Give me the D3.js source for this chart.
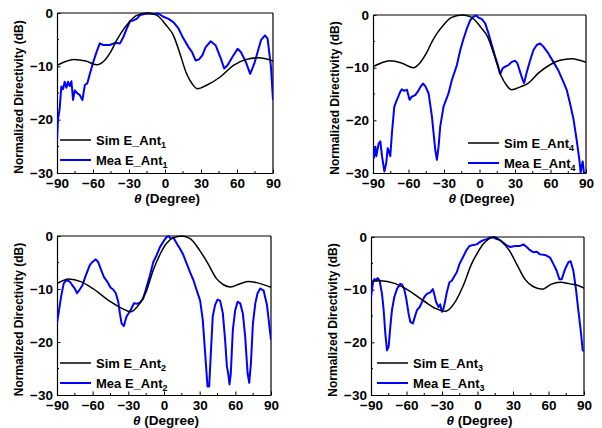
<!DOCTYPE html>
<html>
<head>
<meta charset="utf-8">
<script src="https://cdn.jsdelivr.net/npm/d3@7"></script>
<style>
  body { margin: 0; background: #fff; }
  text { font-family: "Liberation Sans", Arial, sans-serif; font-weight: bold; }
</style>
</head>
<body>
<div id="chart"></div>
<script>
// angle ticks and level ticks
var thetaTicks = [-90, -60, -30, 0, 30, 60, 90];
var levelTicks = [0, -10, -20, -30];

// simulated patterns [theta, dB]
var simAnt1 = [[-90,-9.8],[-83,-9.1],[-76,-8.7],[-66,-9.0],[-57,-9.7],[-50,-8.8],[-45,-7.2],[-40,-5.0],[-35,-3.2],[-30,-1.8],[-24,-0.5],[-15,0],[-7,-0.4],[1,-2.3],[7,-4.2],[12,-7.3],[18,-11.4],[23,-13.4],[27,-14.2],[35,-13.5],[46,-12],[57,-9.8],[68,-8.7],[78,-8.4],[90,-9.0]];
var simAnt4 = [[-90,-9.8],[-83,-9.1],[-76,-8.7],[-66,-9.1],[-56,-10],[-50,-9.0],[-45,-7.3],[-40,-5.0],[-35,-3.2],[-30,-1.8],[-24,-0.5],[-15,0],[-7,-0.4],[1,-2.3],[7,-4.2],[12,-7.3],[18,-11.4],[23,-13.4],[27,-14.2],[35,-13.6],[41,-13],[50,-11],[60,-9.4],[68,-8.6],[78,-8.3],[90,-9.0]];
var simAnt2 = [[-90,-9.0],[-80,-8.1],[-70,-8.6],[-60,-9.9],[-45,-12.4],[-35,-13.7],[-28,-14.3],[-22,-13.2],[-15,-10.5],[-9,-6.4],[-3,-3.3],[2,-1.4],[8,-0.3],[15,0],[22,-0.5],[30,-2.7],[37,-5.2],[44,-8.0],[50,-9.2],[56,-9.6],[64,-9.0],[71,-8.6],[78,-8.8],[90,-9.7]];
var simAnt3 = [[-90,-8.4],[-82,-8.3],[-70,-8.8],[-60,-9.9],[-45,-12.2],[-35,-13.6],[-27,-14.1],[-20,-12.7],[-12,-9.2],[-5,-5.1],[0,-3.0],[5,-1.3],[10,-0.3],[14,0],[20,-0.8],[27,-2.6],[33,-5.1],[40,-8.0],[47,-9.4],[55,-9.9],[62,-9.0],[70,-8.6],[78,-8.9],[85,-9.2],[90,-9.7]];

// measured patterns [theta, dB]
var meaAnt1 = [[-90,-24.1],[-89.2,-20],[-87.8,-18],[-86.4,-13.8],[-85,-14.3],[-83.6,-12.9],[-82.2,-14],[-80.8,-12.9],[-79.4,-13.7],[-78,-12.8],[-76.6,-16.3],[-75.2,-14.5],[-73.3,-15],[-71,-15.4],[-68.8,-16.3],[-66.8,-13.5],[-64.8,-13.2],[-62.6,-11.4],[-59.8,-9.2],[-57,-7.3],[-54.3,-5.7],[-51.5,-6.0],[-45.9,-6.0],[-41.7,-5.6],[-37.5,-5.7],[-34.7,-4.5],[-32,-3.0],[-29.2,-1.5],[-26.4,-1.4],[-23.6,-1.1],[-20.8,-0.4],[-15.3,-0.1],[-9.7,-0.2],[-5.5,-0.1],[-1.3,-0.7],[2.9,-1.1],[7,-1.7],[11.2,-2.9],[15.4,-4.8],[19.6,-6.4],[22.4,-7.3],[25.6,-8.9],[28.4,-8.7],[31.2,-7.9],[33.9,-6.4],[38.1,-5.3],[42.3,-6.1],[46.5,-8.5],[49.3,-10.4],[52.1,-9.8],[56.3,-8.2],[60.5,-6.7],[63.2,-7.3],[67.4,-9.2],[71,-11.4],[74.4,-9.5],[77.2,-7.3],[80,-5.1],[83.3,-4.2],[85.5,-4.8],[88.3,-10.1],[90,-16.3]];
var meaAnt4 = [[-90,-25.6],[-89.4,-27.2],[-88,-25],[-87.2,-26.8],[-85.2,-24.4],[-83.8,-24],[-82.4,-26.8],[-80.4,-29.7],[-78.8,-28.1],[-77.6,-25.3],[-76.5,-25.9],[-75.4,-26.8],[-74,-22.4],[-72,-17.4],[-69.8,-16.1],[-67,-14.6],[-65.6,-14.1],[-63.6,-14.4],[-61.3,-14.2],[-59.1,-16.1],[-57.1,-15.5],[-54.3,-15.2],[-52.3,-14.6],[-50,-13.7],[-47.8,-13],[-45.8,-13.5],[-43,-14.9],[-40.2,-19.3],[-37.4,-25.6],[-36,-27.5],[-34.6,-25],[-33.2,-21.2],[-30.4,-17.4],[-26.2,-14.9],[-23.4,-12.4],[-19.1,-9.5],[-16.3,-6.7],[-13.5,-4.5],[-10.7,-2.6],[-7.9,-1.0],[-5.1,-0.3],[-2.8,-0.1],[-0.8,-0.5],[2,-0.8],[4.8,-1.6],[7.6,-3.5],[10.4,-5.7],[13.2,-7.9],[15.5,-9.5],[17.4,-11.2],[19.7,-10.1],[21.7,-9.8],[24.5,-9.5],[27.3,-8.9],[30.1,-8.7],[32.1,-9.2],[34.3,-10.8],[36.6,-12.4],[37.7,-12.9],[40,-10.8],[42.7,-8.7],[45.5,-6.7],[48.4,-5.7],[51.2,-5.4],[54,-6.0],[58.2,-7.3],[62.4,-8.9],[66.6,-10.5],[70.9,-12.7],[73.7,-14.2],[76.5,-16.8],[79.3,-19.6],[82.1,-23.7],[84.4,-27.5],[85.5,-30],[86.3,-28.7],[87.2,-27.8],[88.3,-30],[90,-30]];
var meaAnt2 = [[-90,-16.5],[-88.3,-14],[-86.3,-11.1],[-84.4,-9.0],[-82.1,-8.3],[-79.3,-8.6],[-77.1,-9.3],[-75.1,-9.9],[-73.1,-10.8],[-70.9,-10.1],[-68.6,-9.3],[-66.7,-8.0],[-64.7,-6.8],[-62.4,-5.5],[-60.2,-4.9],[-57.4,-4.4],[-55.4,-4.9],[-53.4,-6.1],[-50.6,-7.7],[-47.8,-8.6],[-45,-9.7],[-42.8,-10.1],[-40.5,-10.8],[-38.5,-12.4],[-37.1,-14.6],[-35.7,-16.5],[-33.8,-17],[-31.5,-15.2],[-28.1,-14],[-25.3,-12.7],[-23.1,-12.8],[-20.3,-12.6],[-17.5,-11.8],[-14.6,-9.6],[-11.8,-7.4],[-9,-4.9],[-6.2,-3.6],[-3.4,-2.1],[-0.6,-1.1],[1.7,-0.3],[3.7,0],[5.6,-0.5],[7.9,-0.3],[10.7,-1.4],[13.5,-2.4],[16.3,-3.6],[19.1,-5.2],[21.9,-6.8],[24.7,-8.3],[27.6,-10.3],[30.4,-12.2],[32.6,-15.8],[34.6,-22.1],[36.6,-28.4],[38,-28.4],[39.4,-22.1],[41,-15.2],[43,-13],[45,-12],[47.2,-12.2],[49.5,-14.6],[51.4,-19.6],[52.9,-24.6],[54,-25.9],[55.1,-28],[56.2,-25.9],[57.9,-17.7],[59.9,-14],[61.9,-12.4],[64.1,-12.7],[66.3,-14.6],[68.3,-19],[70.3,-25.9],[71.7,-27.7],[73.1,-24],[74.8,-16.5],[76.8,-12.7],[78.7,-10.8],[81,-9.9],[83.8,-10.3],[86.6,-13],[90,-19.6]];
var meaAnt3 = [[-90,-11.4],[-88.3,-8.6],[-87.2,-8.0],[-85.5,-8.2],[-84.4,-7.8],[-82.7,-8.3],[-80.7,-10.8],[-79.3,-13.9],[-77.9,-18.3],[-76.5,-21.5],[-75.1,-20.8],[-73.7,-17.1],[-72.3,-13.9],[-70.3,-11.4],[-68.1,-9.9],[-65.3,-8.9],[-63.8,-9.0],[-61.9,-9.9],[-60.2,-11.7],[-58.2,-14.6],[-56.8,-16.1],[-54.6,-16.4],[-52.6,-14.9],[-51.2,-13.9],[-48.9,-13.3],[-47,-12.4],[-45,-11.4],[-42.8,-10.8],[-39.9,-10.5],[-37.7,-9.9],[-36.6,-10.8],[-34.9,-12.4],[-32.9,-13.3],[-31.5,-12.8],[-30.1,-14.2],[-28.7,-13.6],[-27.3,-12.1],[-25.9,-10.5],[-23.7,-8.6],[-21.7,-8.3],[-19.7,-7.5],[-17.5,-6.7],[-15.2,-5.1],[-12.4,-3.9],[-9.6,-2.6],[-6.8,-1.7],[-3.4,-1.5],[-0.6,-1.4],[2.3,-0.9],[5.1,-0.6],[7.9,-0.4],[10.7,-0.1],[13.5,-0.1],[16.3,-0.4],[19.1,-0.6],[21.9,-1.1],[24.7,-1.6],[27.6,-1.9],[31.8,-1.7],[36,-1.7],[38.8,-1.4],[41.6,-1.9],[44.4,-2.5],[47.2,-2.9],[50.1,-2.8],[52.9,-3.3],[57.1,-3.4],[61.3,-3.9],[64.1,-5.1],[66.9,-6.4],[69.2,-8.0],[71.2,-8.0],[74,-6.1],[76.8,-4.8],[78.7,-4.6],[81,-6.4],[83.3,-10.1],[85.2,-13.9],[87.2,-17.7],[88.9,-21.5],[90,-21.6]];

var width = 602, height = 428;

var svg = d3.select("#chart")
    .append("svg")
    .attr("width", width)
    .attr("height", height);

var panels = [
    { x0: 57,  x1: 273, y0: 13,  y1: 173, sim: simAnt1, mea: meaAnt1, sub: "1", lx: 60,  ly: 140 },
    { x0: 373, x1: 586, y0: 15,  y1: 173, sim: simAnt4, mea: meaAnt4, sub: "4", lx: 468, ly: 143 },
    { x0: 57,  x1: 271, y0: 236, y1: 395, sim: simAnt2, mea: meaAnt2, sub: "2", lx: 60,  ly: 363 },
    { x0: 371, x1: 584, y0: 237, y1: 395, sim: simAnt3, mea: meaAnt3, sub: "3", lx: 377, ly: 363 }
];

panels.forEach(function (p) {
    var x = d3.scaleLinear().domain([-90, 90]).range([p.x0, p.x1]),
        y = d3.scaleLinear().domain([-30, 0]).range([p.y1, p.y0]);

    var g = svg.append("g");

    var clipId = "clip" + p.sub;
    g.append("clipPath").attr("id", clipId)
        .append("rect")
        .attr("x", p.x0).attr("y", p.y0 - 2)
        .attr("width", p.x1 - p.x0).attr("height", p.y1 - p.y0 + 2);

    // frame: top and right
    g.append("line")
        .attr("x1", p.x0).attr("x2", p.x1)
        .attr("y1", p.y0).attr("y2", p.y0)
        .attr("stroke", "#555").attr("stroke-width", 1.5);
    g.append("line")
        .attr("x1", p.x1).attr("x2", p.x1)
        .attr("y1", p.y0).attr("y2", p.y1)
        .attr("stroke", "#000").attr("stroke-width", 1.2);

    // minor ticks (inside)
    g.selectAll(".mx").data(d3.range(-75, 90, 30)).enter().append("line")
        .attr("x1", function (d) { return x(d); }).attr("x2", function (d) { return x(d); })
        .attr("y1", p.y1).attr("y2", p.y1 - 2)
        .attr("stroke", "#000");
    g.selectAll(".my").data([-25, -15, -5]).enter().append("line")
        .attr("y1", function (d) { return y(d); }).attr("y2", function (d) { return y(d); })
        .attr("x1", p.x0).attr("x2", p.x0 + 2)
        .attr("stroke", "#000");

    var xAxis = g.append("g")
        .attr("transform", "translate(0," + p.y1 + ")")
        .call(d3.axisBottom(x).tickValues(thetaTicks).tickSizeInner(-3.5).tickSizeOuter(0).tickPadding(5.5));
    var yAxis = g.append("g")
        .attr("transform", "translate(" + p.x0 + ",0)")
        .call(d3.axisLeft(y).tickValues(levelTicks).tickSizeInner(-3.5).tickSizeOuter(0).tickPadding(4));

    [xAxis, yAxis].forEach(function (a) {
        a.select(".domain").attr("stroke", "#000").attr("stroke-width", 1.2);
        a.selectAll("text").attr("font-size", 13.5).attr("fill", "#000")
            .attr("font-family", "'Liberation Sans', Arial, sans-serif").attr("font-weight", "bold");
    });

    // y axis title
    var cy = (p.y0 + p.y1) / 2 + 4;
    g.append("text")
        .attr("transform", "translate(" + (p.x0 - 34) + "," + cy + ") rotate(-90)")
        .attr("text-anchor", "middle")
        .attr("font-size", 12)
        .text("Normalized Directivity (dB)");

    // x axis title
    var xt = g.append("text")
        .attr("x", (p.x0 + p.x1) / 2 + 2)
        .attr("y", p.y1 + 29.5)
        .attr("text-anchor", "middle")
        .attr("font-size", 13.5);
    xt.append("tspan").attr("font-style", "italic").text("θ");
    xt.append("tspan").text(" (Degree)");

    var line = d3.line()
        .x(function (d) { return x(d[0]); })
        .y(function (d) { return y(Math.max(d[1], -30)); });

    g.append("path")
        .datum(p.mea)
        .attr("clip-path", "url(#" + clipId + ")")
        .attr("fill", "none")
        .attr("stroke", "#0000ff")
        .attr("stroke-width", 2)
        .attr("stroke-linejoin", "round")
        .attr("d", line);

    g.append("path")
        .datum(p.sim)
        .attr("clip-path", "url(#" + clipId + ")")
        .attr("fill", "none")
        .attr("stroke", "#000")
        .attr("stroke-width", 1.5)
        .attr("d", line.curve(d3.curveMonotoneX));

    // legend
    var items = [
        { name: "Sim E_Ant", color: "#000", w: 1.5 },
        { name: "Mea E_Ant", color: "#0000ff", w: 2 }
    ];
    items.forEach(function (it, i) {
        var yy = p.ly + i * 20;
        g.append("line")
            .attr("x1", p.lx).attr("x2", p.lx + 31)
            .attr("y1", yy).attr("y2", yy)
            .attr("stroke", it.color).attr("stroke-width", it.w);
        var t = g.append("text")
            .attr("x", p.lx + 36).attr("y", yy + 5)
            .attr("font-size", 13);
        t.append("tspan").text(it.name);
        t.append("tspan").attr("font-size", 9).attr("dy", 3).text(p.sub);
    });
});
</script>
</body>
</html>
